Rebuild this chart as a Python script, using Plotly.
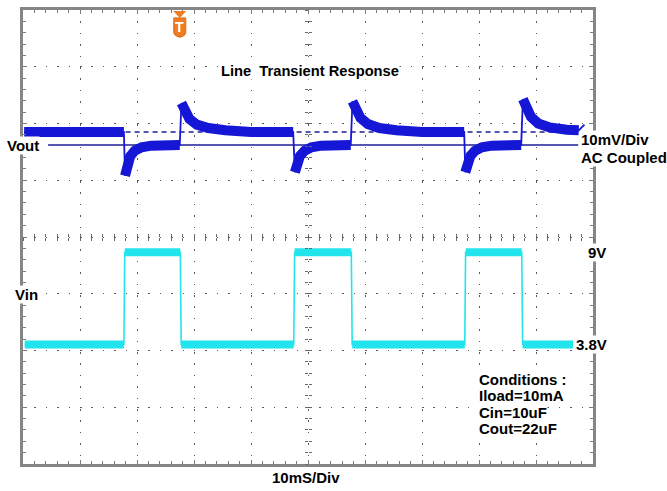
import plotly.graph_objects as go

# ---------------- data ----------------
# time axis: 10 ms/div, 10 divisions
time_per_div_ms = 10
n_xdiv = 10
n_ydiv = 8

# Vin square wave (channel 2)
vin_low_v = 3.8
vin_high_v = 9.0
vin_start_ms = 0.3
vin_end_ms = 96.5
vin_edges_ms = [17.7, 27.6, 47.5, 57.6, 77.5, 87.5]   # rise, fall, rise, fall, ...
vin_v_per_div = 3.2
vin_zero_div = -3.08

# Vout (channel 1, AC coupled, 10 mV/div), values in mV relative to the channel marker
vout_mv_per_div = 10
vout_ref_div = 1.62
vout_seg_t = [
    [0.2, 17.7],
    [17.9, 18.3, 18.8, 19.6, 20.8, 22.5, 27.5],
    [27.8, 28.3, 29.2, 30.5, 32.5, 35.5, 40.0, 47.4],
    [47.7, 48.1, 48.6, 49.4, 50.6, 52.3, 57.5],
    [57.8, 58.3, 59.2, 60.5, 62.5, 65.5, 70.0, 77.4],
    [77.6, 78.0, 78.5, 79.3, 80.5, 82.2, 87.4],
    [87.7, 88.2, 89.1, 90.4, 92.4, 95.4, 97.5],
]
vout_seg_mv = [
    [2.3, 2.3],
    [-5.4, -3.4, -2.0, -1.0, -0.4, -0.1, 0.0],
    [7.4, 6.0, 4.6, 3.6, 3.0, 2.6, 2.3, 2.3],
    [-4.8, -3.2, -1.9, -1.0, -0.4, -0.1, 0.0],
    [7.7, 6.2, 4.8, 3.7, 3.0, 2.6, 2.3, 2.3],
    [-4.8, -3.2, -1.9, -1.0, -0.4, -0.1, 0.0],
    [8.1, 6.5, 5.0, 3.8, 3.1, 2.7, 2.6],
]
vout_tail_t = [98.5]
vout_tail_mv = [3.6]

# reference / cursor lines on Vout
ref_solid_ms = [4.4, 97.4]
ref_solid_mv = 0.0
ref_dash_ms = [18.0, 97.4]
ref_dash_mv = 2.3

trigger_ms = 27.5

cond_lines = ["Conditions :", "Iload=10mA", "Cin=10uF", "Cout=22uF"]

# ---------------- helpers ----------------
W, H = 667, 491
PL, PR, PT, PB = 23, 593, 7, 464
MS_PER_PX = (n_xdiv * time_per_div_ms) / (PR - PL)


def px_x(px):
    return (px - PL) / (PR - PL)


def px_y(py):
    return (PB - py) / (PB - PT)


def vin_div(v):
    return vin_zero_div + v / vin_v_per_div


def vout_div(mv):
    return vout_ref_div + mv / vout_mv_per_div


# build Vin waveform
vin_t = [vin_start_ms]
vin_y = [vin_div(vin_low_v)]
level = vin_low_v
flat_t, flat_y = [vin_start_ms], [vin_div(vin_low_v)]
for e in vin_edges_ms:
    vin_t.append(e)
    vin_y.append(vin_div(level))
    flat_t += [e, None]
    flat_y += [vin_div(level), None]
    level = vin_high_v if level == vin_low_v else vin_low_v
    vin_t.append(e + 0.15)
    vin_y.append(vin_div(level))
    flat_t.append(e + 0.15)
    flat_y.append(vin_div(level))
vin_t.append(vin_end_ms)
vin_y.append(vin_div(level))
flat_t.append(vin_end_ms)
flat_y.append(vin_div(level))

# build Vout waveform
vout_t, vout_y, band_t, band_y = [], [], [], []
for ts, ms in zip(vout_seg_t, vout_seg_mv):
    vout_t += ts
    vout_y += [vout_div(m) for m in ms]
    band_t += ts + [None]
    band_y += [vout_div(m) for m in ms] + [None]
vout_t += vout_tail_t
vout_y += [vout_div(m) for m in vout_tail_mv]

VOUT_C = "#1616D6"
REF_C = "#1E1E96"
VIN_C = "#22E4EC"

fig = go.Figure()
# Vin
fig.add_trace(go.Scatter(x=flat_t, y=flat_y, mode="lines",
                         line=dict(color=VIN_C, width=8), hoverinfo="skip", showlegend=False))
fig.add_trace(go.Scatter(x=vin_t, y=vin_y, mode="lines",
                         line=dict(color=VIN_C, width=1.6), hoverinfo="skip", showlegend=False))
# Vout reference lines
fig.add_trace(go.Scatter(x=ref_solid_ms, y=[vout_div(ref_solid_mv)] * 2, mode="lines",
                         line=dict(color=REF_C, width=1.6), hoverinfo="skip", showlegend=False))
fig.add_trace(go.Scatter(x=ref_dash_ms, y=[vout_div(ref_dash_mv)] * 2, mode="lines",
                         line=dict(color=REF_C, width=1.4, dash="5px,4px"),
                         hoverinfo="skip", showlegend=False))
# Vout
fig.add_trace(go.Scatter(x=band_t, y=band_y, mode="lines",
                         line=dict(color=VOUT_C, width=10), hoverinfo="skip", showlegend=False))
fig.add_trace(go.Scatter(x=vout_t, y=vout_y, mode="lines",
                         line=dict(color=VOUT_C, width=1.8), hoverinfo="skip", showlegend=False))

# dummy traces to realise the centre graticule axes
for ax in ["x2", "x3"]:
    fig.add_trace(go.Scatter(x=[None], y=[None], xaxis=ax, yaxis="y", showlegend=False,
                             hoverinfo="skip"))
for ax in ["y2", "y3"]:
    fig.add_trace(go.Scatter(x=[None], y=[None], xaxis="x", yaxis=ax, showlegend=False,
                             hoverinfo="skip"))

xr = [0, n_xdiv * time_per_div_ms]
yr = [-n_ydiv / 2, n_ydiv / 2]
grid_dash = "1.5px,9.9px"
frame = dict(showline=True, linecolor="#858585", linewidth=3, mirror="ticks",
             ticks="inside", ticklen=4, tickcolor="#7A7A7A", tickwidth=1,
             showticklabels=False, zeroline=False, showgrid=True,
             gridcolor="#5A5A5A", gridwidth=1, griddash=grid_dash, fixedrange=True)

centre = dict(showline=False, showgrid=False, zeroline=False, showticklabels=False,
              ticklen=3, tickcolor="#6A6A6A", tickwidth=1, fixedrange=True,
              anchor="free", position=0.5)

fig.update_layout(
    width=W, height=H,
    margin=dict(l=PL, r=W - PR, t=PT, b=H - PB),
    paper_bgcolor="white", plot_bgcolor="white",
    xaxis=dict(range=xr, dtick=time_per_div_ms,
               minor=dict(dtick=time_per_div_ms / 5, ticks="inside", ticklen=3,
                          tickcolor="#7A7A7A", showgrid=False), **frame),
    yaxis=dict(range=yr, dtick=1,
               minor=dict(dtick=0.2, ticks="inside", ticklen=3,
                          tickcolor="#7A7A7A", showgrid=False), **frame),
    xaxis2=dict(overlaying="x", range=xr, dtick=time_per_div_ms / 5, ticks="inside", **centre),
    xaxis3=dict(overlaying="x", range=xr, dtick=time_per_div_ms / 5, ticks="outside", **centre),
    yaxis2=dict(overlaying="y", range=yr, dtick=0.2, ticks="inside", **centre),
    yaxis3=dict(overlaying="y", range=yr, dtick=0.2, ticks="outside", **centre),
)

FONT = "Liberation Sans, Arial, sans-serif"


def label(text, xpx, ypx=None, yval=None, size=15, bg="white"):
    d = dict(text="<b>%s</b>" % text, xref="paper", x=px_x(xpx), xanchor="left",
             yanchor="middle", showarrow=False, bgcolor=bg, borderpad=0,
             font=dict(family=FONT, size=size, color="black"))
    if yval is not None:
        d.update(yref="y", y=yval)
    else:
        d.update(yref="paper", y=px_y(ypx))
    fig.add_annotation(**d)


label("Vout", 6, yval=vout_div(ref_solid_mv))
label("Line\u00a0 Transient Response", 220, ypx=68, size=14.7)
label("10mV/Div", 580, ypx=137)
label("AC Coupled", 580, ypx=155)
label("9V", 587, yval=vin_div(vin_high_v))
label("Vin", 14, ypx=293)
label("3.8V", 575, yval=vin_div(vin_low_v))
for i, t in enumerate(cond_lines):
    label(t, 478, ypx=379 + i * 16.4)
label("10mS/Div", 271, ypx=478)

# trigger marker (triangle + shield shaped tag)
ORANGE = "#F07D22"
hw = 6.5 * MS_PER_PX
fig.add_shape(type="path", xref="x", yref="paper",
              path="M %f %f L %f %f L %f %f Z" % (trigger_ms - hw, px_y(8),
                                                   trigger_ms + hw, px_y(8),
                                                   trigger_ms, px_y(15)),
              fillcolor=ORANGE, line=dict(width=0))
bw = 6 * MS_PER_PX
fig.add_shape(type="path", xref="x", yref="paper",
              path=("M %f %f L %f %f L %f %f Q %f %f %f %f Q %f %f %f %f Z" % (
                  trigger_ms - bw, px_y(15), trigger_ms + bw, px_y(15),
                  trigger_ms + bw, px_y(30),
                  trigger_ms + bw, px_y(33), trigger_ms, px_y(34.5),
                  trigger_ms - bw, px_y(33), trigger_ms - bw, px_y(30))),
              fillcolor=ORANGE, line=dict(color="#E06A10", width=1))
fig.add_annotation(text="<b>T</b>", xref="x", x=trigger_ms, yref="paper", y=px_y(24.5),
                   xanchor="center", yanchor="middle", showarrow=False,
                   font=dict(family=FONT, size=14, color="white"))

fig.write_html("out.html", config={"displayModeBar": False},
               post_script="document.body.style.margin='0';")
